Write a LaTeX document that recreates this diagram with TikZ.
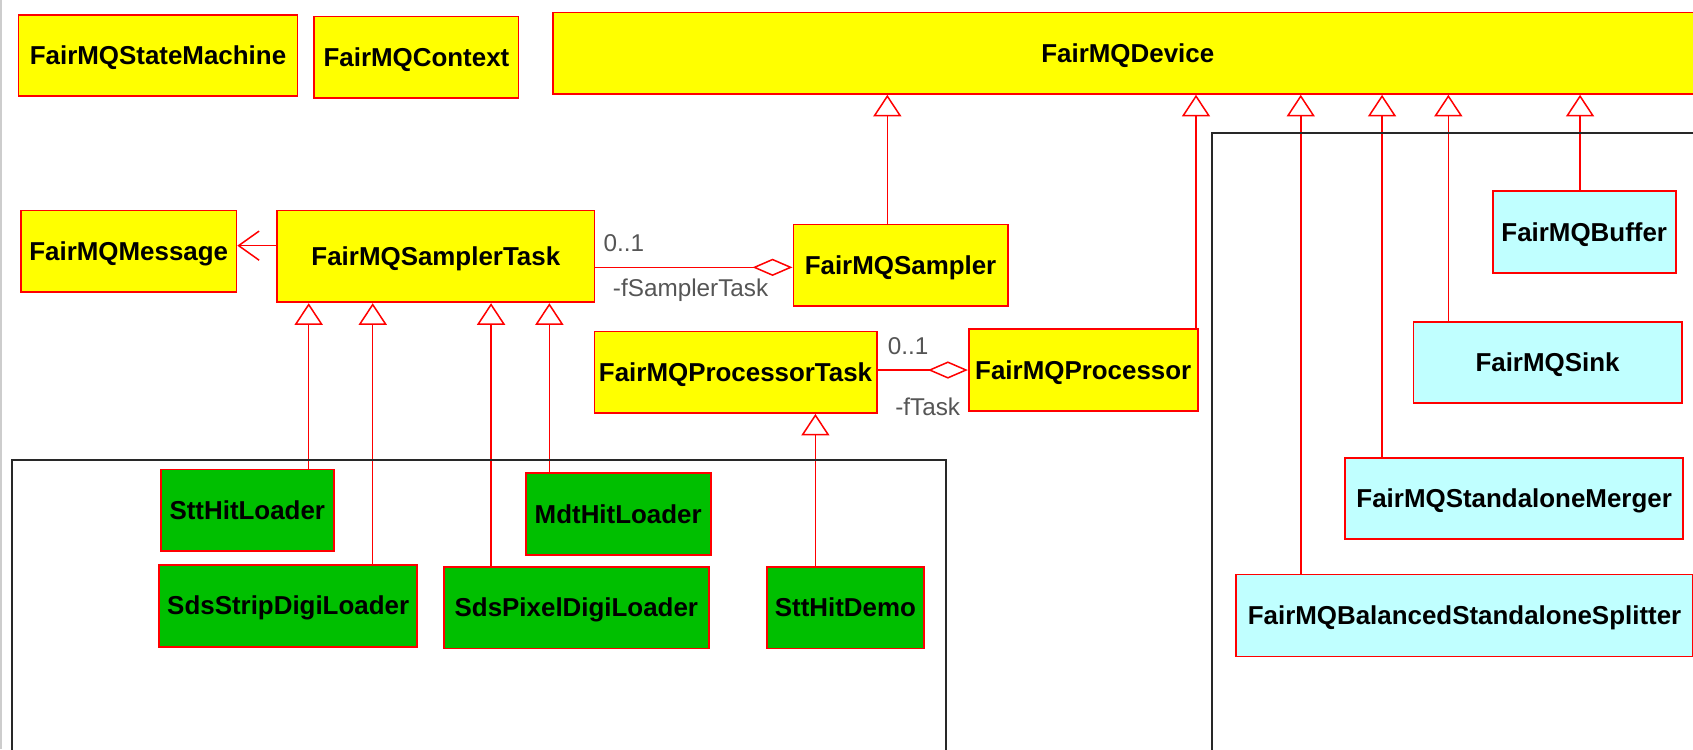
\documentclass[tikz,border=0pt]{standalone}
\usepackage{fontspec}
\setmainfont{Liberation Sans}
\usetikzlibrary{arrows.meta}

\definecolor{clsyellow}{RGB}{255,255,0}
\definecolor{clsred}{RGB}{255,0,0}
\definecolor{clsgreen}{RGB}{0,191,0}
\definecolor{clscyan}{RGB}{192,255,255}
\definecolor{rolegray}{RGB}{85,85,85}
\definecolor{framegray}{RGB}{40,40,40}
\definecolor{edgegray}{RGB}{205,205,205}

\begin{document}
\begin{tikzpicture}[x=1pt,y=-1pt,
  cls/.style={draw=clsred, line width=1.6pt, inner sep=0pt, text=black,
    font=\fontsize{24}{28}\selectfont\bfseries, text height=17pt, text depth=0pt},
  % a box given by its left, top, right and bottom edges
  place/.style args={#1/#2/#3/#4}{at={({(#1+#3)/2},{(#2+#4)/2})},
    minimum width={(#3-#1)*1pt}, minimum height={(#4-#2)*1pt}},
  ybox/.style={cls, fill=clsyellow},
  gbox/.style={cls, fill=clsgreen},
  cbox/.style={cls, fill=clscyan},
  inh/.style={draw=clsred, line width=1.4pt,
    -{Triangle[open, length=20pt, width=26pt, line width=1.4pt]}},
  agg/.style={draw=clsred, line width=1.4pt,
    -{Diamond[open, length=37pt, width=16pt, line width=1.4pt]}},
  assoc/.style={draw=clsred, line width=1.4pt,
    -{Straight Barb[length=19pt, width=27pt, line width=1.4pt]}},
  role/.style={inner sep=0pt, anchor=base west, text=rolegray,
    font=\fontsize{22.5}{26}\selectfont},
  pkg/.style={draw=framegray, line width=1.6pt}
]
\useasboundingbox (0,0) rectangle (1568,694);
\draw[edgegray, line width=1.5pt] (1,0) -- (1,694);

% classes of the top row
\node[ybox, place=17.2/13.8/275.5/89.1] (statemachine) {FairMQStateMachine};
\node[ybox, place=291.1/15.3/480.3/91] (context) {FairMQContext};
\node[ybox, place=512/11.7/1577/87] (device) {FairMQDevice};

% tasks, sampler and processor
\node[ybox, place=19.5/195/219/270.7] (message) {FairMQMessage};
\node[ybox, place=256.8/195/550.5/280] (samplertask) {FairMQSamplerTask};
\node[ybox, place=734.8/207.8/933.3/283.4] (sampler) {FairMQSampler};
\node[ybox, place=550.5/306.9/812/382.5] (processortask) {FairMQProcessorTask};
\node[ybox, place=897.2/305/1109.3/380.7] (processor) {FairMQProcessor};

% loaders and demo
\node[gbox, place=148.8/434.7/309.3/510.3] (stthitloader) {SttHitLoader};
\node[gbox, place=486.9/438.4/658.2/514.2] (mdthitloader) {MdtHitLoader};
\node[gbox, place=147.3/523/386.5/599] (stripdigiloader) {SdsStripDigiLoader};
\node[gbox, place=411.2/524.8/656.4/600.5] (pixeldigiloader) {SdsPixelDigiLoader};
\node[gbox, place=710.1/524.8/855.8/600.5] (stthitdemo) {SttHitDemo};

% standalone devices
\node[cbox, place=1382.5/177/1552/253] (buffer) {FairMQBuffer};
\node[cbox, place=1309/298/1557.5/373.5] (sink) {FairMQSink};
\node[cbox, place=1245.7/423.9/1559/499.5] (merger) {FairMQStandaloneMerger};
\node[cbox, place=1144.8/532/1568/607.9] (splitter) {FairMQBalancedStandaloneSplitter};

% x positions of the generalization lines
\coordinate (gStt) at (285.9,0);
\coordinate (gStrip) at (345.2,0);
\coordinate (gPixel) at (454.8,0);
\coordinate (gMdt) at (508.8,0);
\coordinate (gDemo) at (755.2,0);
\coordinate (gSampler) at (821.8,0);
\coordinate (gProcessor) at (1107.7,0);
\coordinate (gSplitter) at (1204.7,0);
\coordinate (gMerger) at (1280,0);
\coordinate (gSink) at (1341.4,0);
\coordinate (gBuffer) at (1463.4,0);

% generalizations
\draw[inh] (stthitloader.north -| gStt) -- (samplertask.south -| gStt);
\draw[inh] (stripdigiloader.north -| gStrip) -- (samplertask.south -| gStrip);
\draw[inh] (pixeldigiloader.north -| gPixel) -- (samplertask.south -| gPixel);
\draw[inh] (mdthitloader.north -| gMdt) -- (samplertask.south -| gMdt);
\draw[inh] (stthitdemo.north -| gDemo) -- (processortask.south -| gDemo);
\draw[inh] (sampler.north -| gSampler) -- (device.south -| gSampler);
\draw[inh] (processor.north -| gProcessor) -- (device.south -| gProcessor);
\draw[inh] (splitter.north -| gSplitter) -- (device.south -| gSplitter);
\draw[inh] (merger.north -| gMerger) -- (device.south -| gMerger);
\draw[inh] (sink.north -| gSink) -- (device.south -| gSink);
\draw[inh] (buffer.north -| gBuffer) -- (device.south -| gBuffer);

% association and aggregations
\coordinate (yMsg) at (0,227.5);
\coordinate (ySampler) at (0,247.6);
\coordinate (yProc) at (0,342.7);
\draw[assoc] (samplertask.west |- yMsg) -- (message.east |- yMsg);
\draw[agg] (samplertask.east |- ySampler) -- (sampler.west |- ySampler);
\draw[agg] (processortask.east |- yProc) -- (processor.west |- yProc);

% role names and multiplicities
\node[role] (multsampler) at (558.8,233) {0..1};
\node[role] (rolesampler) at (567.5,275) {-fSamplerTask};
\node[role] (multproc) at (822,328) {0..1};
\node[role] (roleproc) at (829,385) {-fTask};

% package frames
\draw[pkg] (11,720) |- (876,426) -- (876,720);
\draw[pkg] (1122.2,720) |- (1620,122.9);
\end{tikzpicture}
\end{document}
